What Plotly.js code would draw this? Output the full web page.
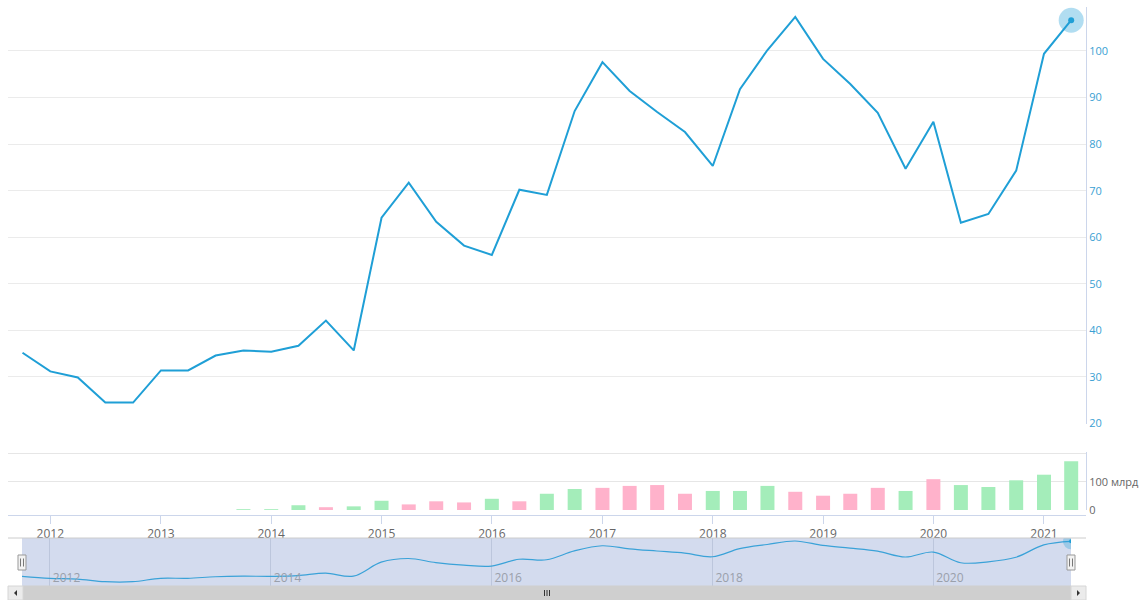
<!DOCTYPE html>
<html>
<head>
<meta charset="utf-8">
<script src="https://cdn.plot.ly/plotly-3.0.1.min.js"></script>
<style>
html,body{margin:0;padding:0;background:#fff;}
#chart{width:1141px;height:600px;}
</style>
</head>
<body>
<div id="chart"></div>
<script>
// ---- data ----
const quarters = [
  "2011-10-01","2012-01-01","2012-04-01","2012-07-01","2012-10-01",
  "2013-01-01","2013-04-01","2013-07-01","2013-10-01",
  "2014-01-01","2014-04-01","2014-07-01","2014-10-01",
  "2015-01-01","2015-04-01","2015-07-01","2015-10-01",
  "2016-01-01","2016-04-01","2016-07-01","2016-10-01",
  "2017-01-01","2017-04-01","2017-07-01","2017-10-01",
  "2018-01-01","2018-04-01","2018-07-01","2018-10-01",
  "2019-01-01","2019-04-01","2019-07-01","2019-10-01",
  "2020-01-01","2020-04-01","2020-07-01","2020-10-01",
  "2021-01-01","2021-04-01"
];
const prices = [
  35.2, 31.2, 29.9, 24.5, 24.5,
  31.4, 31.4, 34.6, 35.7,
  35.4, 36.7, 42.1, 35.7,
  64.2, 71.7, 63.3, 58.2,
  56.2, 70.2, 69.1, 87.1,
  97.6, 91.4, 86.9, 82.6,
  75.3, 91.8, 100.2, 107.3,
  98.3, 92.9, 86.7, 74.7,
  84.8, 63.1, 65.0, 74.3,
  99.4, 106.6
];
// volume, billions
const volumes = [
  null, null, null, null, null,
  null, null, null, 3,
  3, 17, 10, 13,
  33, 20, 31, 27,
  40, 31, 58, 75,
  79, 86, 89, 58,
  68, 68, 86, 65,
  51, 58, 79, 68,
  110, 89, 82, 106,
  126, 174
];
const volumeDirection = [
  null, null, null, null, null,
  null, null, null, "up",
  "up", "up", "down", "up",
  "up", "down", "down", "down",
  "up", "down", "up", "up",
  "down", "down", "down", "down",
  "up", "up", "up", "down",
  "down", "down", "down", "up",
  "down", "up", "up", "up",
  "up", "up"
];
const priceTicks = [20, 30, 40, 50, 60, 70, 80, 90, 100];
const volumeTickVals = [0, 100, 200];
const volumeTickText = ["0", "100 млрд", ""];

// ---- styles ----
const W = 1141, H = 600;
const LINE = "#1f9fd6";
const UP = "#a4edba", DOWN = "#ffb2cb";
const px = v => v / W;
const py = v => 1 - v / H;

const lastX = quarters[quarters.length - 1];
const lastY = prices[prices.length - 1];

const traces = [
  {
    type: "scatter", mode: "lines", x: quarters, y: prices,
    xaxis: "x", yaxis: "y",
    line: {color: LINE, width: 2}, hoverinfo: "skip"
  },
  {
    type: "scatter", mode: "markers", x: [lastX], y: [lastY],
    xaxis: "x", yaxis: "y",
    marker: {size: 25, color: "rgba(31,159,214,0.35)"}, hoverinfo: "skip"
  },
  {
    type: "scatter", mode: "markers", x: [lastX], y: [lastY],
    xaxis: "x", yaxis: "y",
    marker: {size: 6, color: LINE}, hoverinfo: "skip"
  },
  {
    type: "bar", x: quarters, y: volumes,
    xaxis: "x", yaxis: "y2",
    width: 4.0e9,
    marker: {color: volumeDirection.map(d => d === "down" ? DOWN : UP)},
    hoverinfo: "skip"
  },
  {
    type: "scatter", mode: "lines", x: quarters, y: prices,
    xaxis: "x2", yaxis: "y3",
    line: {color: "#3aa2d8", width: 1.2, shape: "spline", smoothing: 1},
    hoverinfo: "skip"
  },
  {
    type: "scatter", mode: "markers", x: [lastX], y: [lastY],
    xaxis: "x2", yaxis: "y3",
    marker: {size: 16, color: "rgba(31,159,214,0.3)"}, hoverinfo: "skip"
  },
  {
    type: "scatter", mode: "markers", x: [lastX], y: [lastY],
    xaxis: "x2", yaxis: "y3",
    marker: {size: 4, color: LINE}, hoverinfo: "skip"
  }
];

const FONT = "Open Sans, DejaVu Sans, sans-serif";

const shapes = [
  // navigator mask
  {type: "rect", xref: "x2 domain", yref: "y3 domain", x0: 0, x1: 1, y0: 0, y1: 1,
   fillcolor: "#d3dbee", line: {width: 0}, layer: "below"},
  // navigator top outline
  {type: "line", xref: "paper", yref: "paper", x0: px(8), x1: px(1086), y0: py(538), y1: py(538),
   line: {color: "#cccccc", width: 1}},
  // scrollbar track / thumb
  {type: "rect", xref: "paper", yref: "paper", x0: px(23), x1: px(1071), y0: py(600), y1: py(586),
   fillcolor: "#cfcfcf", line: {color: "#cfcfcf", width: 1}},
  // scrollbar buttons
  {type: "rect", xref: "paper", yref: "paper", x0: px(8), x1: px(23), y0: py(600), y1: py(586),
   fillcolor: "#ebebeb", line: {color: "#d6d6d6", width: 1}},
  {type: "rect", xref: "paper", yref: "paper", x0: px(1071), x1: px(1086), y0: py(600), y1: py(586),
   fillcolor: "#ebebeb", line: {color: "#d6d6d6", width: 1}},
  // arrows
  {type: "path", xref: "paper", yref: "paper",
   path: `M ${px(17)} ${py(590)} L ${px(17)} ${py(596)} L ${px(14)} ${py(593)} Z`,
   fillcolor: "#333", line: {width: 0}},
  {type: "path", xref: "paper", yref: "paper",
   path: `M ${px(1077)} ${py(590)} L ${px(1077)} ${py(596)} L ${px(1080)} ${py(593)} Z`,
   fillcolor: "#333", line: {width: 0}},
];
// scrollbar grip
[544.5, 547, 549.5].forEach(gx => shapes.push({
  type: "line", xref: "paper", yref: "paper", x0: px(gx), x1: px(gx), y0: py(590), y1: py(596),
  line: {color: "#333", width: 1}
}));
// navigator handles
[0, 1].forEach(a => {
  shapes.push({type: "rect", xref: "x2 domain", yref: "y3 domain",
    xsizemode: "pixel", xanchor: a, x0: -4, x1: 4,
    ysizemode: "pixel", yanchor: 0.5, y0: -7.5, y1: 7.5,
    fillcolor: "#f2f2f2", line: {color: "#999", width: 1}});
  [-1.5, 1.5].forEach(o => shapes.push({type: "line", xref: "x2 domain", yref: "y3 domain",
    xsizemode: "pixel", xanchor: a, x0: o, x1: o,
    ysizemode: "pixel", yanchor: 0.5, y0: -4, y1: 4,
    line: {color: "#777", width: 1}}));
});

const layout = {
  width: W, height: H,
  margin: {l: 0, r: 0, t: 0, b: 0, pad: 0},
  paper_bgcolor: "#fff", plot_bgcolor: "#fff",
  showlegend: false, hovermode: false,
  font: {family: FONT, size: 11, color: "#666"},
  xaxis: {
    type: "date", domain: [px(8), px(1086)],
    range: ["2011-08-14", "2021-05-20"],
    anchor: "free", position: py(515),
    showline: true, linecolor: "#ccd6eb", linewidth: 1,
    ticks: "outside", ticklen: 8, tickcolor: "#ccd6eb",
    tick0: "2012-01-01", dtick: "M12", tickformat: "%Y",
    showgrid: false, zeroline: false,
    tickfont: {family: FONT, size: 12, color: "#666"}
  },
  yaxis: {
    domain: [py(424), py(7)], range: [19.9, 109.44],
    anchor: "x", side: "right",
    showline: true, linecolor: "#ccd6eb", linewidth: 1,
    gridcolor: "#ebebeb", zeroline: false,
    tickvals: priceTicks, ticks: "",
    tickfont: {family: FONT, size: 11, color: "#3a9fd3"}
  },
  yaxis2: {
    domain: [py(510), py(452)], range: [0, 207],
    anchor: "x", side: "right",
    showline: true, linecolor: "#ccd6eb", linewidth: 1,
    gridcolor: "#e6e6e6", zeroline: false,
    tickvals: volumeTickVals, ticktext: volumeTickText, ticks: "",
    tickfont: {family: FONT, size: 11, color: "#666"}
  },
  xaxis2: {
    type: "date", domain: [px(22), px(1071)],
    range: [quarters[0], lastX],
    anchor: "y3", side: "bottom",
    showline: false, ticks: "",
    tick0: "2012-01-01", dtick: "M24", tickformat: "%Y",
    ticklabelposition: "inside right",
    ticklabelstandoff: -3, ticklabelshift: 3,
    showgrid: true, gridcolor: "#bcc6dc", gridwidth: 1, zeroline: false,
    tickfont: {family: FONT, size: 12, color: "#9aa0ab"}
  },
  yaxis3: {
    domain: [py(587), py(538)], range: [13.7, 113.4],
    anchor: "x2", showgrid: false, zeroline: false,
    showticklabels: false, ticks: "", showline: false
  },
  shapes: shapes
};

Plotly.newPlot("chart", traces, layout, {displayModeBar: false, staticPlot: true});
</script>
</body>
</html>
